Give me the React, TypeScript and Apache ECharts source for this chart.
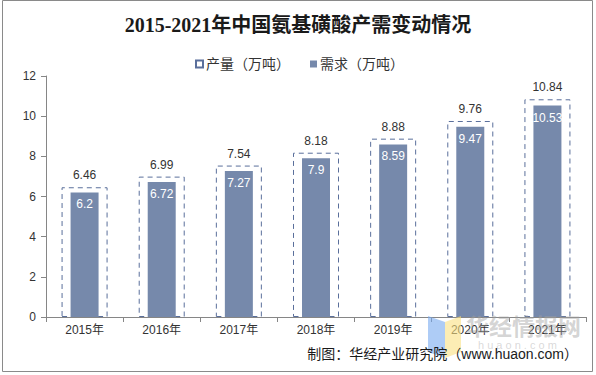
import React, { useEffect, useRef } from "react";
import * as echarts from "echarts";

const categories = ["2015年", "2016年", "2017年", "2018年", "2019年", "2020年", "2021年"];
const production = [6.46, 6.99, 7.54, 8.18, 8.88, 9.76, 10.84];
const demand = [6.2, 6.72, 7.27, 7.9, 8.59, 9.47, 10.53];
const yTicks = { min: 0, max: 12, interval: 2 };

const SANS = "'Liberation Sans', Arial, 'Noto Sans CJK SC', sans-serif";

export default function App() {
  const ref = useRef<HTMLDivElement>(null);
  useEffect(() => {
    document.body.style.margin = "0";
    if (!ref.current) return;
    const chart = echarts.init(ref.current, undefined, { renderer: "svg" });
    chart.setOption({
      animation: false,
      backgroundColor: "#ffffff",
      textStyle: { fontFamily: SANS },
      legend: {
        left: 190,
        top: 52,
        itemWidth: 7,
        itemHeight: 7,
        itemGap: 20,
        icon: "rect",
        textStyle: { fontSize: 14, color: "#333333", fontFamily: SANS, padding: [0, 0, 0, -2] },
        data: ["产量（万吨）", "需求（万吨）"],
      },
      grid: { left: 46, right: 10, top: 76, bottom: 58, containLabel: false },
      xAxis: [
        {
          type: "category",
          data: categories,
          axisLine: { lineStyle: { color: "#868686" } },
          axisTick: { show: true, length: 5, lineStyle: { color: "#868686" } },
          axisLabel: { color: "#333333", fontSize: 12, margin: 7 },
        },
        {
          type: "category",
          data: categories,
          show: false,
        },
      ],
      yAxis: {
        type: "value",
        min: yTicks.min,
        max: yTicks.max,
        interval: yTicks.interval,
        axisLine: { show: true, lineStyle: { color: "#868686" } },
        axisTick: { show: true, length: 5, lineStyle: { color: "#868686" } },
        splitLine: { show: false },
        axisLabel: { color: "#333333", fontSize: 12, margin: 10 },
      },
      series: [
        {
          name: "产量（万吨）",
          type: "bar",
          xAxisIndex: 0,
          data: production,
          barWidth: 46,
          itemStyle: {
            color: "#ffffff",
            borderColor: "#5a6f9b",
            borderWidth: 1,
            borderType: [5, 4],
          },
          label: {
            show: true,
            position: "top",
            distance: 6,
            color: "#333333",
            fontSize: 12,
          },
          z: 2,
        },
        {
          name: "需求（万吨）",
          type: "bar",
          xAxisIndex: 1,
          data: demand,
          barWidth: 28,
          itemStyle: { color: "#7689ab" },
          label: {
            show: true,
            position: "insideTop",
            distance: 6,
            color: "#ffffff",
            fontSize: 12,
          },
          z: 3,
        },
      ],
      graphic: [
        {
          type: "rect",
          shape: { x: 2.5, y: 0.5, width: 590, height: 371 },
          style: { fill: "none", stroke: "#8a8a8a", lineWidth: 1 },
          silent: true,
          z: 0,
        },
        {
          type: "text",
          x: 298,
          y: 25,
          style: {
            text: "2015-2021年中国氨基磺酸产需变动情况",
            fontSize: 20,
            fontWeight: "bold",
            fontFamily: "'Liberation Serif', 'Noto Sans CJK SC', serif",
            fill: "#1a1a1a",
            textAlign: "center",
            textVerticalAlign: "middle",
          },
        },
        {
          type: "polygon",
          shape: { points: [[428, 316], [445, 322], [445, 358], [428, 352]] },
          style: { fill: "rgba(120,170,240,0.6)" },
          z: 10,
          silent: true,
        },
        {
          type: "polygon",
          shape: { points: [[445, 322], [461, 316], [461, 352], [445, 358]] },
          style: { fill: "rgba(250,225,130,0.6)" },
          z: 10,
          silent: true,
        },
        {
          type: "text",
          x: 466,
          y: 313,
          style: {
            text: "华经情报网",
            fontSize: 23,
            fontWeight: "bold",
            fontFamily: "'Noto Sans CJK SC', sans-serif",
            fill: "rgba(160,160,160,0.45)",
          },
          z: 10,
          silent: true,
        },
        {
          type: "text",
          x: 478,
          y: 339,
          style: {
            text: "h u a o n . c o m",
            fontSize: 11,
            fontFamily: SANS,
            fill: "rgba(170,170,170,0.45)",
          },
          z: 10,
          silent: true,
        },
        {
          type: "text",
          x: 578,
          y: 354,
          style: {
            text: "制图：华经产业研究院（www.huaon.com）",
            fontSize: 14,
            fontFamily: SANS,
            fill: "#1a1a1a",
            textAlign: "right",
            textVerticalAlign: "middle",
          },
          z: 11,
        },
      ],
    });
    return () => chart.dispose();
  }, []);
  return <div ref={ref} style={{ width: 596, height: 375 }} />;
}
